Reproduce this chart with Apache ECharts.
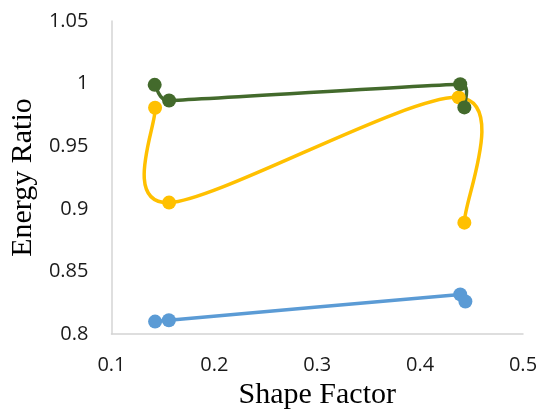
<!DOCTYPE html>
<html><head><meta charset="utf-8">
<script src="https://cdn.jsdelivr.net/npm/echarts@6/dist/echarts.min.js"></script>
<style>html,body{margin:0;padding:0;background:#fff}#c{width:542px;height:415px}</style>
</head><body><div id="c"></div>
<script>
const blueX = [0.1424, 0.1558, 0.4390, 0.4440];
const blueY = [0.810, 0.811, 0.8317, 0.826];
const yellowX = [0.1424, 0.1560, 0.4375, 0.4430];
const yellowY = [0.9807, 0.905, 0.989, 0.889];
const greenX = [0.1420, 0.1560, 0.4390, 0.4430];
const greenY = [0.999, 0.9865, 0.9995, 0.981];
const xTicks = [0.1, 0.2, 0.3, 0.4, 0.5];
const yTicks = [0.8, 0.85, 0.9, 0.95, 1, 1.05];

const zip = (xs, ys) => xs.map((x, i) => [x, ys[i]]);

// Excel-style smoothed curve (Bezier arms limited by neighbouring segment lengths)
function excelSegments(pts) {
  const n = pts.length;
  const dist = (a, b) => Math.hypot(b[0] - a[0], b[1] - a[1]);
  const ctrl = pts.map((p, i) => {
    const prev = pts[Math.max(i - 1, 0)], next = pts[Math.min(i + 1, n - 1)];
    const dx = next[0] - prev[0], dy = next[1] - prev[1];
    const d02 = Math.hypot(dx, dy);
    if (!d02) return [0, 0];
    let arm = d02 / 6;
    if (i > 0) arm = Math.min(arm, dist(prev, p) / 2);
    if (i < n - 1) arm = Math.min(arm, dist(p, next) / 2);
    return [dx / d02 * arm, dy / d02 * arm];
  });
  const segs = [];
  for (let i = 0; i < n - 1; i++) {
    const a = pts[i], b = pts[i + 1];
    segs.push({x1: a[0], y1: a[1], cpx1: a[0] + ctrl[i][0], cpy1: a[1] + ctrl[i][1],
      cpx2: b[0] - ctrl[i + 1][0], cpy2: b[1] - ctrl[i + 1][1], x2: b[0], y2: b[1]});
  }
  return segs;
}

const lineSeries = (xs, ys, color) => ({
  type: 'custom', data: zip(xs, ys), encode: {x: 0, y: 1}, silent: true,
  renderItem: (params, api) => {
    if (params.dataIndex !== 0) return null;
    const pts = xs.map((x, i) => api.coord([x, ys[i]]));
    return {
      type: 'group',
      children: excelSegments(pts).map(s => ({
        type: 'bezierCurve', shape: s,
        style: {fill: null, stroke: color, lineWidth: 3.5, lineCap: 'round'}
      }))
    };
  }
});
const dotSeries = (xs, ys, color) => ({
  type: 'scatter', data: zip(xs, ys), symbol: 'circle', symbolSize: 14,
  itemStyle: {color, opacity: 1}, silent: true, emphasis: {disabled: true}
});

const chart = echarts.init(document.getElementById('c'), null, {renderer: 'canvas'});
chart.setOption({
  animation: false,
  grid: {left: 104, right: 19, top: 21, bottom: 79},
  xAxis: {
    type: 'value', min: xTicks[0], max: xTicks[xTicks.length - 1], interval: 0.1,
    axisLine: {show: true, lineStyle: {color: '#d4d4d4', width: 1.5}},
    axisTick: {show: false}, splitLine: {show: false},
    axisLabel: {color: '#1a1a1a', fontFamily: 'Open Sans', fontSize: 20, margin: 21,
      formatter: v => String(Math.round(v * 10) / 10)},
    name: 'Shape Factor', nameLocation: 'middle', nameGap: 40,
    nameTextStyle: {fontFamily: 'Liberation Serif', fontSize: 30, color: '#000'}
  },
  yAxis: {
    type: 'value', min: yTicks[0], max: yTicks[yTicks.length - 1], interval: 0.05,
    axisLine: {show: true, lineStyle: {color: '#d4d4d4', width: 1.5}},
    axisTick: {show: false}, splitLine: {show: false},
    axisLabel: {color: '#1a1a1a', fontFamily: 'Open Sans', fontSize: 20, margin: 23,
      formatter: v => String(Math.round(v * 100) / 100)},
    name: 'Energy Ratio', nameLocation: 'middle', nameGap: 64,
    nameTextStyle: {fontFamily: 'Liberation Serif', fontSize: 30, color: '#000'}
  },
  series: [
    lineSeries(blueX, blueY, '#5b9bd5'), dotSeries(blueX, blueY, '#5b9bd5'),
    lineSeries(yellowX, yellowY, '#ffc000'), dotSeries(yellowX, yellowY, '#ffc000'),
    lineSeries(greenX, greenY, '#436a2c'), dotSeries(greenX, greenY, '#436a2c')
  ]
});
</script></body></html>
